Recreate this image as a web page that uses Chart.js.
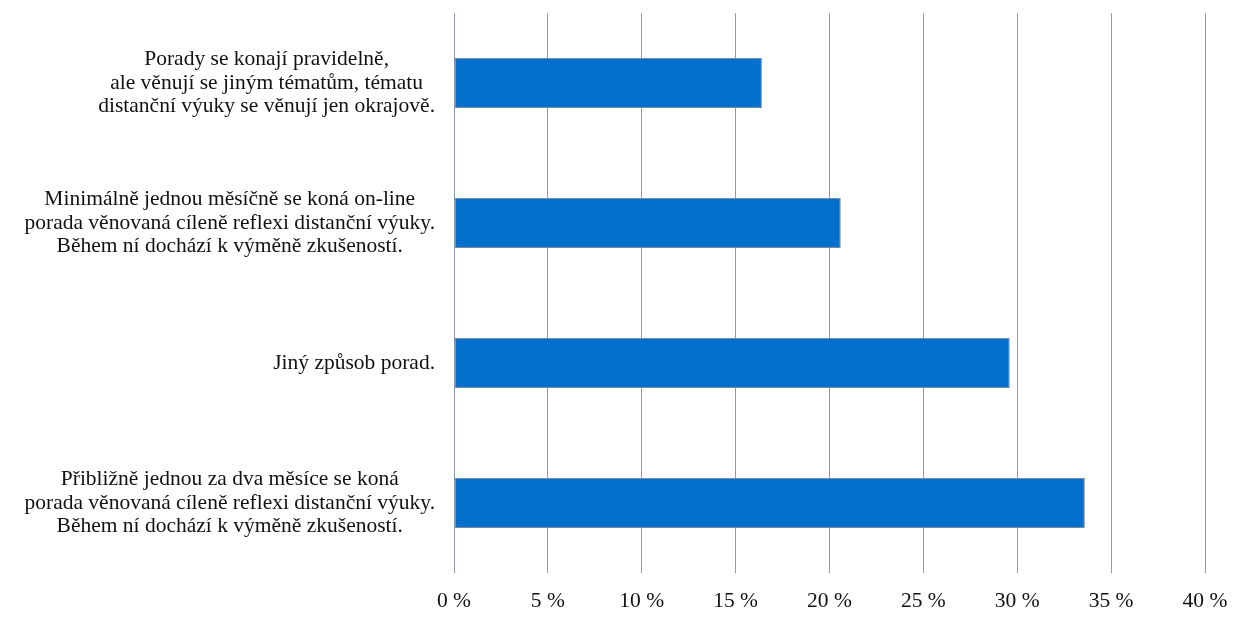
<!DOCTYPE html>
<html>
<head>
<meta charset="utf-8">
<script src="https://cdn.jsdelivr.net/npm/chart.js@4"></script>
<style>
html,body{margin:0;padding:0;background:#fff;}
#wrap{position:relative;width:1259px;height:626px;}
</style>
</head>
<body>
<div id="wrap"><canvas id="c"></canvas></div>
<script>
const categories = [
  ["Porady se konají pravidelně,", "ale věnují se jiným tématům, tématu", "distanční výuky se věnují jen okrajově."],
  ["Minimálně jednou měsíčně se koná on-line", "porada věnovaná cíleně reflexi distanční výuky.", "Během ní dochází k výměně zkušeností."],
  ["Jiný způsob porad."],
  ["Přibližně jednou za dva měsíce se koná", "porada věnovaná cíleně reflexi distanční výuky.", "Během ní dochází k výměně zkušeností."]
];
const values = [16.4, 20.6, 29.6, 33.6];
const xTicks = [0, 5, 10, 15, 20, 25, 30, 35, 40];

const FONT_FAMILY = "'Liberation Serif', 'Times New Roman', serif";
const FONT_SIZE = 21.5;

const yLabelPlugin = {
  id: 'yLabels',
  afterDraw(chart) {
    const ys = chart.scales.y;
    const ctx = chart.ctx;
    ctx.save();
    ctx.font = FONT_SIZE + 'px ' + FONT_FAMILY;
    ctx.fillStyle = '#111';
    ctx.textAlign = 'center';
    ctx.textBaseline = 'middle';
    const lh = 23.5;
    const rightEdge = ys.right - 19;
    categories.forEach((lines, i) => {
      const y = ys.getPixelForTick(i);
      const maxW = Math.max(...lines.map(l => ctx.measureText(l).width));
      const cx = rightEdge - maxW / 2;
      const y0 = y - (lines.length - 1) * lh / 2;
      lines.forEach((l, j) => ctx.fillText(l, cx, y0 + j * lh));
    });
    ctx.restore();
  }
};

new Chart(document.getElementById('c'), {
  type: 'bar',
  data: {
    labels: categories,
    datasets: [{
      data: values,
      backgroundColor: '#0070CC',
      borderColor: '#7d8aa0',
      borderWidth: 1,
      borderSkipped: false,
      categoryPercentage: 1,
      barPercentage: 0.357
    }]
  },
  options: {
    indexAxis: 'y',
    responsive: true,
    maintainAspectRatio: false,
    animation: false,
    layout: { padding: { top: 13, right: 54, bottom: 0, left: 0 } },
    plugins: { legend: { display: false }, tooltip: { enabled: false } },
    scales: {
      x: {
        min: 0, max: 40,
        afterBuildTicks(scale) { scale.ticks = xTicks.map(v => ({ value: v })); },
        afterFit(scale) { scale.height = 53; },
        ticks: {
          callback: v => v + ' %',
          font: { family: FONT_FAMILY, size: FONT_SIZE },
          color: '#111',
          padding: 15,
          maxRotation: 0
        },
        grid: { color: '#8c9bb4', lineWidth: 1, drawTicks: false },
        border: { display: false }
      },
      y: {
        ticks: { display: false },
        grid: { display: false },
        border: { display: false },
        afterFit(scale) { scale.width = 454; }
      }
    }
  },
  plugins: [yLabelPlugin]
});
</script>
</body>
</html>
